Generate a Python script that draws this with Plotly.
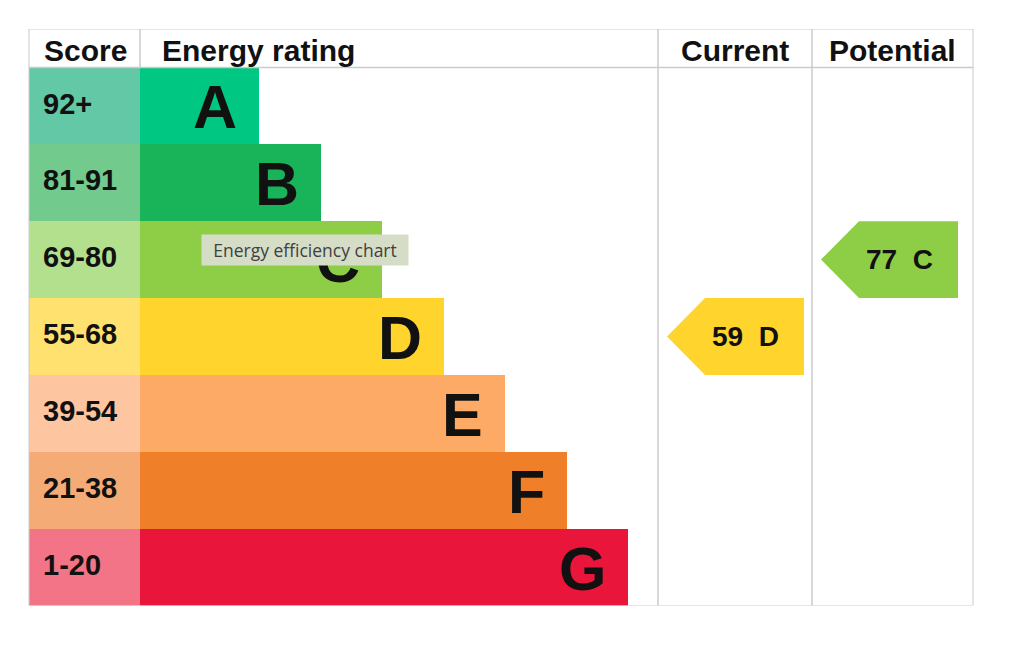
import plotly.graph_objects as go

# bandas de eficiencia energetica
bands = ['A', 'B', 'C', 'D', 'E', 'F', 'G']
score_ranges = ['92+', '81-91', '69-80', '55-68', '39-54', '21-38', '1-20']
band_min = [92, 81, 69, 55, 39, 21, 1]
score_colors = ['#63c8a5', '#72cb8d', '#b3e08c', '#ffe170', '#fec6a0', '#f4ab76', '#f37487']
bar_colors = ['#00c781', '#19b459', '#8dce46', '#ffd42c', '#fcaa65', '#ef8029', '#e9153b']

current_score = 59
potential_score = 77

headers = ['Score', 'Energy rating', 'Current', 'Potential']

# columnas de la tabla (px en pantalla)
col_edges = [29, 140, 658, 812, 973]
grid_color = '#cbcbcf'
font = 'Liberation Sans, Arial, sans-serif'
page_off = 8  # margen del body en la pagina


def band_of(score):
    for i, m in enumerate(band_min):
        if score >= m:
            return i
    return len(bands) - 1


rows = list(range(len(bands)))
bar_len = [119 + 61.5 * i for i in rows]

fig = go.Figure()

# columna de puntuacion
fig.add_trace(go.Bar(
    orientation='h', y=rows, x=[col_edges[1] - col_edges[0]] * len(rows), base=col_edges[0],
    width=1, marker=dict(color=score_colors, line=dict(width=0)), hoverinfo='skip'
))

# barras de la calificacion
fig.add_trace(go.Bar(
    orientation='h', y=rows, x=bar_len, base=col_edges[1],
    width=1, marker=dict(color=bar_colors, line=dict(width=0)), hoverinfo='skip'
))

annotations = []

# flechas actual / potencial
for score, c0, c1 in [(current_score, col_edges[2], col_edges[3]), (potential_score, col_edges[3], col_edges[4])]:
    b = band_of(score)
    tip = c0 + 9
    right = tip + 137
    shoulder = tip + 38
    fig.add_trace(go.Scatter(
        x=[tip, shoulder, right, right, shoulder, tip],
        y=[b, b - 0.5, b - 0.5, b + 0.5, b + 0.5, b],
        fill='toself', fillcolor=bar_colors[b], mode='lines', line=dict(width=0),
        hoverinfo='skip'
    ))
    annotations.append(dict(
        x=(tip + right) / 2 + 10, y=b, xref='x', yref='y', showarrow=False,
        text='<b>%d&nbsp;&nbsp;%s</b>' % (score, bands[b]),
        font=dict(family=font, size=28, color='#111111'), xanchor='center', yanchor='middle'
    ))

# textos de cabecera
header_x = [42, 160, (col_edges[2] + col_edges[3]) / 2, (col_edges[3] + col_edges[4]) / 2]
header_anchor = ['left', 'left', 'center', 'center']
for h, hx, ha in zip(headers, header_x, header_anchor):
    annotations.append(dict(
        x=hx, y=-0.72, xref='x', yref='y', showarrow=False, text='<b>%s</b>' % h,
        font=dict(family=font, size=30, color='#111111'), xanchor=ha, yanchor='middle'
    ))

# rangos y letras
for i in rows:
    annotations.append(dict(
        x=41, y=i - 0.03, xref='x', yref='y', showarrow=False, text='<b>%s</b>' % score_ranges[i],
        font=dict(family=font, size=29, color='#111111'), xanchor='left', yanchor='middle'
    ))
    annotations.append(dict(
        x=col_edges[1] + bar_len[i] - 20, y=i + 0.02, xref='x', yref='y', showarrow=False,
        text='<b>%s</b>' % bands[i],
        font=dict(family=font, size=61, color='#111111'), xanchor='right', yanchor='middle'
    ))

# tooltip del navegador
annotations.append(dict(
    x=(201 - page_off) / 1024, y=1 - (250 - page_off) / 648, xref='paper', yref='paper', showarrow=False,
    text='Energy efficiency chart', width=198, height=22, borderpad=4,
    bgcolor='#d6ddc7', font=dict(family='Open Sans, sans-serif', size=17.5, color='#404040'),
    xanchor='left', yanchor='middle', align='center'
))

# lineas de la tabla
shapes = []
shapes.append(dict(type='rect', x0=col_edges[0], x1=col_edges[-1], y0=-1, y1=6.5,
                   xref='x', yref='y', line=dict(color=grid_color, width=1)))
shapes.append(dict(type='line', x0=col_edges[0], x1=col_edges[-1], y0=-0.5, y1=-0.5,
                   xref='x', yref='y', line=dict(color=grid_color, width=1.5)))
shapes.append(dict(type='line', x0=col_edges[1], x1=col_edges[1], y0=-1, y1=-0.5,
                   xref='x', yref='y', line=dict(color=grid_color, width=1.5)))
for cx in col_edges[2:4]:
    shapes.append(dict(type='line', x0=cx, x1=cx, y0=-1, y1=6.5,
                       xref='x', yref='y', line=dict(color=grid_color, width=1.5)))

fig.update_layout(
    width=1024, height=648, margin=dict(l=0, r=0, t=0, b=0),
    paper_bgcolor='white', plot_bgcolor='white', showlegend=False,
    barmode='overlay', bargap=0,
    xaxis=dict(range=[page_off, 1024 + page_off], visible=False, fixedrange=True),
    yaxis=dict(range=[6.5, -1.0],
               domain=[1 - (605.5 - page_off) / 648, 1 - (29 - page_off) / 648],
               visible=False, fixedrange=True),
    annotations=annotations, shapes=shapes
)

fig.write_html('out.html', config={'displayModeBar': False})
